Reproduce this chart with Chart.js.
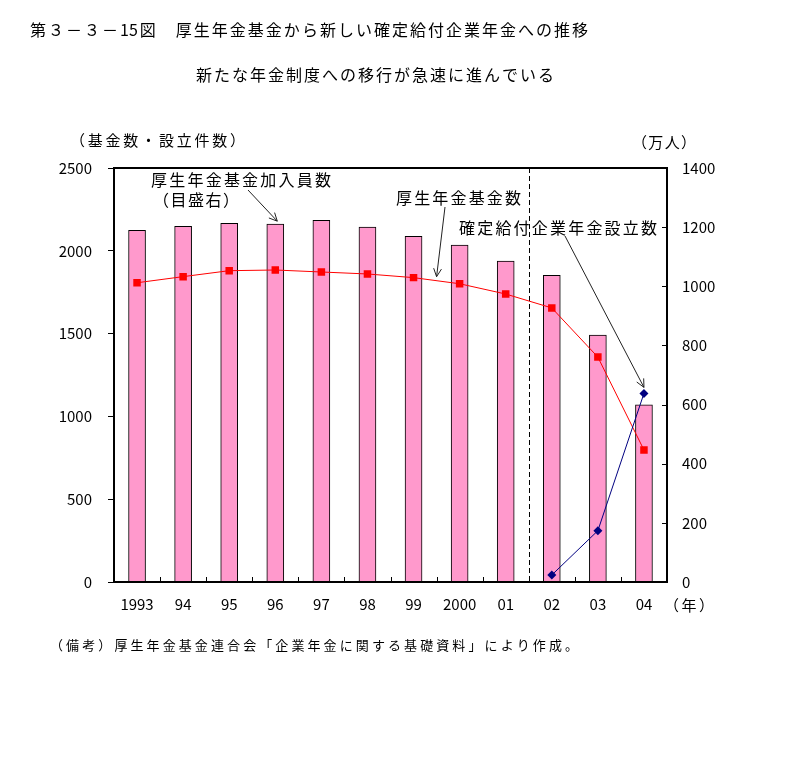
<!DOCTYPE html>
<html>
<head>
<meta charset="utf-8">
<script src="https://cdn.jsdelivr.net/npm/chart.js@4"></script>
<style>
  body { margin: 0; background: #fff; }
  canvas { display: block; }
</style>
</head>
<body>
<canvas id="chart" width="792" height="762"></canvas>
<script>
// data
const years = ['1993', '94', '95', '96', '97', '98', '99', '2000', '01', '02', '03', '04'];
const members = [1189, 1203, 1213, 1210, 1223, 1200, 1169, 1139, 1085, 1037, 835, 599];   // 万人, right axis
const funds = [1807, 1844, 1880, 1884, 1872, 1860, 1838, 1801, 1739, 1655, 1358, 797];    // left axis
const dbPlans = [null, null, null, null, null, null, null, null, null, 42, 310, 1139];   // left axis
const leftMax = 2500, leftStep = 500;
const rightMax = 1400, rightStep = 200;

const FONT = "'Noto Sans CJK JP', 'Noto Sans CJK SC', sans-serif";

// draw text spread over a given width, like the spaced Japanese text of the original
// (runs of half-width digits stay together)
function spaced(ctx, text, x, y, size, width) {
  ctx.font = size + 'px ' + FONT;
  const parts = text.match(/[0-9]+|./gu);
  const w = parts.map(c => ctx.measureText(c).width);
  const natural = w.reduce((s, v) => s + v, 0);
  const gap = width && parts.length > 1 ? (width - natural) / (parts.length - 1) : 0;
  ctx.textAlign = 'left';
  ctx.textBaseline = 'middle';
  let cx = x;
  parts.forEach((c, i) => { ctx.fillText(c, cx, y); cx += w[i] + gap; });
}

function line(ctx, x1, y1, x2, y2) {
  ctx.beginPath(); ctx.moveTo(x1, y1); ctx.lineTo(x2, y2); ctx.stroke();
}

function arrow(ctx, x1, y1, x2, y2) {
  line(ctx, x1, y1, x2, y2);
  const ang = Math.atan2(y2 - y1, x2 - x1);
  const len = 9;
  line(ctx, x2, y2, x2 - len * Math.cos(ang - 0.45), y2 - len * Math.sin(ang - 0.45));
  line(ctx, x2, y2, x2 - len * Math.cos(ang + 0.45), y2 - len * Math.sin(ang + 0.45));
}

const overlay = {
  id: 'overlay',
  beforeDatasetsDraw(chart) {
    const { ctx, chartArea: a, scales: { x } } = chart;
    ctx.save();
    ctx.strokeStyle = '#000';
    ctx.lineWidth = 1;
    ctx.setLineDash([5, 3]);
    const dx = Math.round((x.getPixelForValue(8) + x.getPixelForValue(9)) / 2) + 0.5;
    line(ctx, dx, a.top, dx, a.bottom);
    ctx.restore();
  },
  afterDraw(chart) {
    const { ctx, chartArea: a, scales: { x, y, y1 } } = chart;
    ctx.save();
    ctx.strokeStyle = '#000';
    ctx.fillStyle = '#000';
    ctx.lineWidth = 1;

    // tick marks on bottom (inside, between categories)
    const cw = (a.right - a.left) / years.length;
    for (let i = 1; i < years.length; i++) {
      const px = Math.round(a.left + i * cw) + 0.5;
      line(ctx, px, a.bottom, px, a.bottom - 5);
    }
    // right axis ticks (inside)
    for (let v = 0; v <= rightMax; v += rightStep) {
      const py = Math.round(y1.getPixelForValue(v)) + 0.5;
      line(ctx, a.right - 5, py, a.right, py);
    }

    // frame
    ctx.lineWidth = 2;
    ctx.strokeRect(a.left, a.top, a.right - a.left, a.bottom - a.top);

    // arrows
    ctx.lineWidth = 1;
    ctx.strokeStyle = '#222';
    const bar96 = chart.getDatasetMeta(1).data[3];
    arrow(ctx, 248, 190, bar96.x + 2, bar96.y - 3);
    const mx = (x.getPixelForValue(6) + x.getPixelForValue(7)) / 2;
    const my = (y.getPixelForValue(funds[6]) + y.getPixelForValue(funds[7])) / 2;
    arrow(ctx, 445, 207, mx, my - 4);
    const p04 = chart.getDatasetMeta(2).data[11];
    arrow(ctx, 565, 236, p04.x, p04.y - 6);

    // texts
    ctx.fillStyle = '#000';
    spaced(ctx, '第３－３－15図　厚生年金基金から新しい確定給付企業年金への推移', 30, 30, 16, 558);
    spaced(ctx, '新たな年金制度への移行が急速に進んでいる', 196, 75, 16, 358);
    spaced(ctx, '（基金数・設立件数）', 70, 140, 15, 175);
    spaced(ctx, '（万人）', 632, 142, 15, 64);
    spaced(ctx, '厚生年金基金加入員数', 151, 180, 16, 180);
    spaced(ctx, '（目盛右）', 153, 200, 16, 86);
    spaced(ctx, '厚生年金基金数', 396, 198, 16, 125);
    spaced(ctx, '確定給付企業年金設立数', 459, 228, 16, 198);
    spaced(ctx, '（年）', 664, 605, 15, 50);
    spaced(ctx, '（備考）厚生年金基金連合会「企業年金に関する基礎資料」により作成。', 50, 645, 13, 528);
    ctx.restore();
  }
};

new Chart(document.getElementById('chart'), {
  type: 'bar',
  data: {
    labels: years,
    datasets: [{
      type: 'line',
      label: '厚生年金基金数',
      data: funds,
      yAxisID: 'y',
      borderColor: '#ff0000',
      backgroundColor: '#ff0000',
      borderWidth: 1,
      pointStyle: 'rect',
      pointRadius: 5.3,
      pointBorderWidth: 0,
      order: 1
    }, {
      type: 'bar',
      label: '厚生年金基金加入員数',
      data: members,
      yAxisID: 'y1',
      backgroundColor: '#ff99cc',
      borderColor: '#000',
      borderWidth: 1,
      barThickness: 17,
      order: 3
    }, {
      type: 'line',
      label: '確定給付企業年金設立数',
      data: dbPlans,
      yAxisID: 'y',
      borderColor: '#000080',
      backgroundColor: '#000080',
      borderWidth: 1,
      pointStyle: 'rectRot',
      pointRadius: 4.5,
      pointBorderWidth: 0,
      order: 0
    }]
  },
  options: {
    responsive: false,
    animation: false,
    layout: { padding: { top: 168, left: 0, right: 0, bottom: 0 } },
    plugins: { legend: { display: false }, title: { display: false }, tooltip: { enabled: false } },
    scales: {
      x: {
        offset: true,
        grid: { display: false, drawTicks: false },
        border: { display: false },
        ticks: { color: '#000', font: { family: FONT, size: 15 }, padding: 13, maxRotation: 0, autoSkip: false },
        afterFit: s => { s.height = 180; }
      },
      y: {
        position: 'left',
        min: 0, max: leftMax,
        ticks: { stepSize: leftStep, color: '#000', font: { family: FONT, size: 15 }, padding: 16, callback: v => String(v) },
        grid: { drawOnChartArea: false, tickLength: 6, color: '#000' },
        border: { display: false },
        afterFit: s => { s.width = 114; }
      },
      y1: {
        position: 'right',
        min: 0, max: rightMax,
        ticks: { stepSize: rightStep, color: '#000', font: { family: FONT, size: 15 }, padding: 15, callback: v => String(v) },
        grid: { display: false, drawTicks: false },
        border: { display: false },
        afterFit: s => { s.width = 125; }
      }
    }
  },
  plugins: [overlay]
});
</script>
</body>
</html>
